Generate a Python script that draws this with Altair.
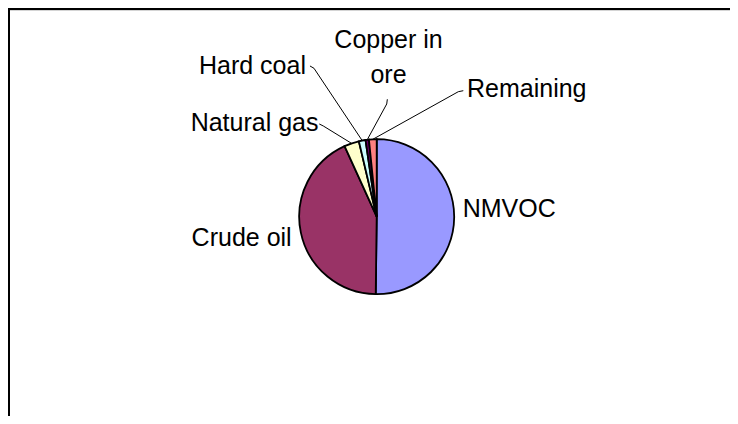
import altair as alt
import pandas as pd

# ---- data ----
categories = ["NMVOC", "Crude oil", "Natural gas", "Hard coal", "Copper in ore", "Remaining"]
shares = [50.2, 43.0, 3.1, 1.4, 0.7, 1.6]
label_texts = ["NMVOC", "Crude oil", "Natural gas", "Hard coal", "Copper in\nore", "Remaining"]
colors = ["#9999FF", "#993366", "#FFFFCC", "#CCFFFF", "#660066", "#FF8080"]

# ---- layout (pixels, view coordinates) ----
W, H = 722, 408
CX, CY, R = 368.7, 208.7, 77.5
FONT = "Liberation Sans"
FS = 25
# label anchor offset from the slice's mid point on the rim
label_offset = {
    "NMVOC": (8.5, 0.0), "Crude oil": (-9.2, 13.3), "Natural gas": (-33.1, -12.4),
    "Hard coal": (-56.2, -66.6), "Copper in ore": (21.3, -91.8), "Remaining": (94.2, -42.3),
}
label_align = {
    "NMVOC": "left", "Crude oil": "right", "Natural gas": "right",
    "Hard coal": "right", "Copper in ore": "center", "Remaining": "left",
}
# leader line bend and end, relative to the label anchor
leader_bend = {"Natural gas": (4.8, -5), "Hard coal": (8, -5.7), "Copper in ore": (-1.8, 56), "Remaining": (-8.7, -5.3)}
leader_end = {"Natural gas": (0.8, -7), "Hard coal": (4, -8), "Copper in ore": (-1.2, 51.3), "Remaining": (-3.7, -6.3)}

df = pd.DataFrame({
    "category": categories,
    "share": shares,
    "order": list(range(len(categories))),
    "label": label_texts,
})
df["ldx"] = [label_offset[c][0] for c in categories]
df["ldy"] = [label_offset[c][1] for c in categories]
df["align"] = [label_align[c] for c in categories]
df["leader"] = [c in leader_bend for c in categories]
df["bdx"] = [leader_bend.get(c, (0, 0))[0] for c in categories]
df["bdy"] = [leader_bend.get(c, (0, 0))[1] for c in categories]
df["edx"] = [leader_end.get(c, (0, 0))[0] for c in categories]
df["edy"] = [leader_end.get(c, (0, 0))[1] for c in categories]

base = alt.Chart(df)

pie = base.mark_arc(outerRadius=R, stroke="black", strokeWidth=1.8).encode(
    theta=alt.Theta("share:Q", stack=True),
    color=alt.Color("category:N", scale=alt.Scale(domain=categories, range=colors), legend=None),
    order=alt.Order("order:Q"),
    x=alt.value(CX),
    y=alt.value(CY),
)

geo = (
    base.transform_joinaggregate(total="sum(share)")
    .transform_window(cum="sum(share)", sort=[alt.SortField("order")], frame=[None, 0])
    .transform_calculate(
        mid="(datum.cum - datum.share / 2) / datum.total * 2 * PI",
    )
    .transform_calculate(
        ex=f"{CX} + {R} * sin(datum.mid)",
        ey=f"{CY} - {R} * cos(datum.mid)",
    )
    .transform_calculate(
        lx="datum.ex + datum.ldx",
        ly="datum.ey + datum.ldy",
    )
    .transform_calculate(
        bx="datum.lx + datum.bdx",
        by="datum.ly + datum.bdy",
        tx="datum.lx + datum.edx",
        ty="datum.ly + datum.edy",
    )
)

frame_src = alt.Chart(pd.DataFrame({"k": [0]}))
frame_top = frame_src.mark_rule(color="black", strokeWidth=2).encode(
    x=alt.value(0), x2=alt.value(W), y=alt.value(1))
frame_shadow = frame_src.mark_rule(color="#d4d4d4", strokeWidth=1).encode(
    x=alt.value(2), x2=alt.value(W), y=alt.value(2.5))
frame_left = frame_src.mark_rule(color="black", strokeWidth=2).encode(
    x=alt.value(1), y=alt.value(0), y2=alt.value(H))

layers = [frame_shadow, frame_top, frame_left, pie]
leaders = geo.transform_filter("datum.leader")
layers.append(
    leaders.mark_rule(color="black", strokeWidth=1).encode(
        x=alt.X("ex:Q", scale=None), y=alt.Y("ey:Q", scale=None),
        x2="bx:Q", y2="by:Q",
    )
)
layers.append(
    leaders.mark_rule(color="black", strokeWidth=1).encode(
        x=alt.X("bx:Q", scale=None), y=alt.Y("by:Q", scale=None),
        x2="tx:Q", y2="ty:Q",
    )
)
for a in ["left", "right", "center"]:
    layers.append(
        geo.transform_filter(f"datum.align == '{a}'")
        .mark_text(align=a, baseline="alphabetic", font=FONT, fontSize=FS,
                   color="black", lineBreak="\n", lineHeight=35)
        .encode(
            x=alt.X("lx:Q", scale=None),
            y=alt.Y("ly:Q", scale=None),
            text="label:N",
        )
    )

chart = (
    alt.layer(*layers)
    .properties(width=W, height=H, padding=0, autosize="none", background="white")
    .configure_view(stroke="transparent", strokeWidth=0)
)

chart.save("out.html", embed_options={"renderer": "svg", "actions": False})
